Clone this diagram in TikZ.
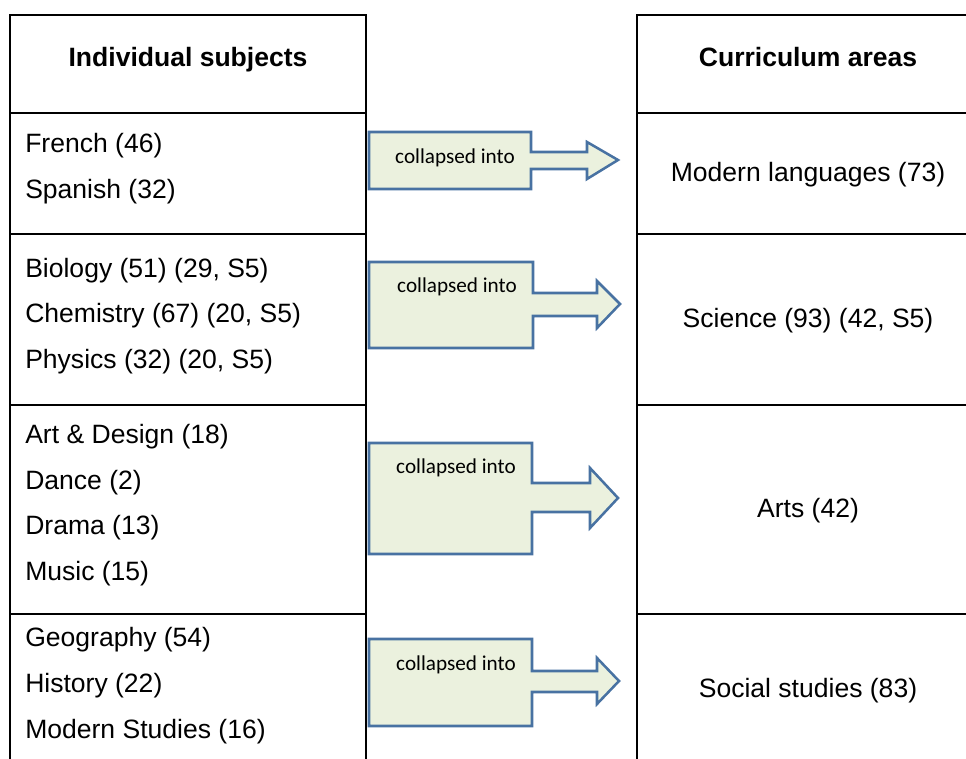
\documentclass[tikz,border=0pt]{standalone}
\usepackage{fontspec}
\setmainfont{Liberation Sans}
\newfontfamily\calloutfont{Carlito}
\definecolor{arrowfill}{RGB}{235,241,222}
\definecolor{arrowline}{RGB}{72,114,162}

\begin{document}
\begin{tikzpicture}[x=0.75pt, y=-0.75pt,
    tablerule/.style={line width=1.5pt},
    heading/.style={inner sep=0pt, anchor=base, font=\fontsize{19.9}{24}\selectfont\bfseries},
    subject/.style={inner sep=0pt, anchor=west, font=\fontsize{19.9}{24}\selectfont},
    area/.style={inner sep=0pt, font=\fontsize{19.9}{24}\selectfont},
    collapsearrow/.style={fill=arrowfill, draw=arrowline, line width=1.9pt, line join=miter},
    arrowlabel/.style={inner sep=0pt, font=\fontsize{15.9}{19}\calloutfont}]
        \clip (0,0) rectangle (966,759);
        % Colonne de gauche
        \draw[tablerule] (10,759) -- (10,15) -- (366,15) -- (366,759);
        \draw[tablerule] (10,113) -- (366,113);
        \draw[tablerule] (10,234) -- (366,234);
        \draw[tablerule] (10,405) -- (366,405);
        \draw[tablerule] (10,614) -- (366,614);
        % Colonne de droite
        \draw[tablerule] (637,759) -- (637,15) -- (966,15);
        \draw[tablerule] (637,113) -- (966,113);
        \draw[tablerule] (637,234) -- (966,234);
        \draw[tablerule] (637,405) -- (966,405);
        \draw[tablerule] (637,614) -- (966,614);
        % En-tetes
        \node[heading] (subjhead) at (188,67) {Individual subjects};
        \node[heading] (areahead) at (808,67) {Curriculum areas};
        % Matieres
        \node[subject] (french) at (25,146) {French (46)};
        \node[subject] (spanish) at (25,192) {Spanish (32)};
        \node[subject] (biology) at (25,271) {Biology (51) (29, S5)};
        \node[subject] (chemistry) at (25,316) {Chemistry (67) (20, S5)};
        \node[subject] (physics) at (25,362) {Physics (32) (20, S5)};
        \node[subject] (artdesign) at (25,437) {Art \& Design (18)};
        \node[subject] (dance) at (25,483) {Dance (2)};
        \node[subject] (drama) at (25,528) {Drama (13)};
        \node[subject] (music) at (25,574) {Music (15)};
        \node[subject] (geography) at (25,640) {Geography (54)};
        \node[subject] (history) at (25,686) {History (22)};
        \node[subject] (modstudies) at (25,732) {Modern Studies (16)};
        % Domaines
        \node[area] (languages) at (808,175) {Modern languages (73)};
        \node[area] (science) at (808,321) {Science (93) (42, S5)};
        \node[area] (arts) at (808,511) {Arts (42)};
        \node[area] (social) at (808,691) {Social studies (83)};
        % Fleches
        \draw[collapsearrow] (369,132) -- (531,132) -- (531,152) -- (587,152) -- (587,142)
            -- (618,160) -- (587,179) -- (587,169) -- (531,169) -- (531,189) -- (369,189) -- cycle;
        \draw[collapsearrow] (369,262) -- (533,262) -- (533,293) -- (597,293) -- (597,281)
            -- (620,304) -- (597,328) -- (597,316) -- (533,316) -- (533,348) -- (369,348) -- cycle;
        \draw[collapsearrow] (369,443) -- (532,443) -- (532,483) -- (590,483) -- (590,468)
            -- (618,498) -- (590,528) -- (590,512) -- (532,512) -- (532,554) -- (369,554) -- cycle;
        \draw[collapsearrow] (369,639) -- (532,639) -- (532,671) -- (597,671) -- (597,658)
            -- (619,681) -- (597,704) -- (597,692) -- (532,692) -- (532,726) -- (369,726) -- cycle;
        \node[arrowlabel] (collapse1) at (455,158) {collapsed into};
        \node[arrowlabel] (collapse2) at (457,287) {collapsed into};
        \node[arrowlabel] (collapse3) at (456,468) {collapsed into};
        \node[arrowlabel] (collapse4) at (456,665) {collapsed into};
    \end{tikzpicture}
\end{document}
